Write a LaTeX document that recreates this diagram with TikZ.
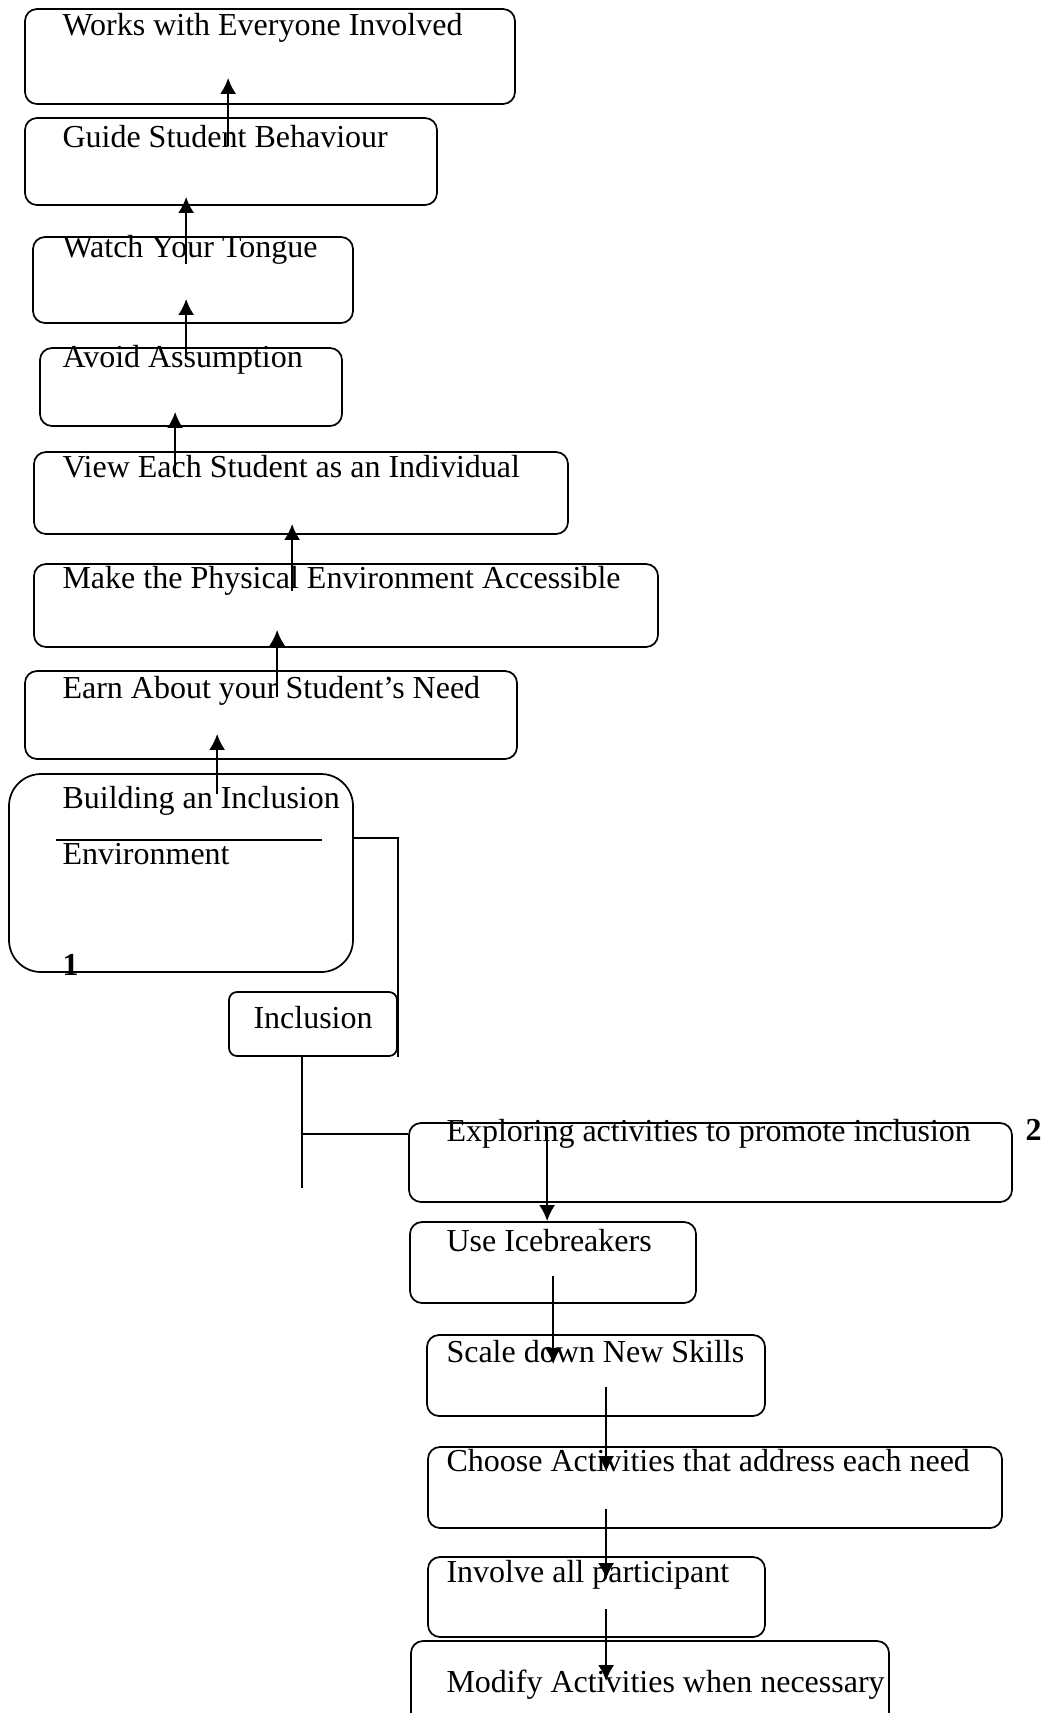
\documentclass[tikz,border=0pt]{standalone}
\usepackage{fontspec}
\setmainfont{Liberation Serif}
\usetikzlibrary{arrows.meta, positioning, calc, fit}

\tikzset{
  box/.style={draw, rounded corners=4.5pt, inner sep=0pt, line width=0.65pt},
  txt/.style={anchor=base west, inner sep=0pt},
  arr/.style={-{Latex[length=6pt,width=6pt]}, line width=0.85pt},
  link/.style={line width=0.65pt}
}

\begin{document}
\begin{tikzpicture}[x=0.375pt, y=-0.375pt, font=\fontsize{12}{14}\selectfont]
\useasboundingbox (0,0) rectangle (1042,1713);
\node[box, fit={(25,9) (515,104)}] (Works) {};
\node[txt] (WorksT) at (62,35) {Works with Everyone Involved};
\node[box, fit={(25,118) (437,205)}] (Guide) {};
\node[txt] (GuideT) at (62,147) {Guide Student Behaviour};
\node[box, fit={(33,237) (353,323)}] (Watch) {};
\node[txt] (WatchT) at (62,257) {Watch Your Tongue};
\node[box, fit={(40,348) (342,426)}] (Avoid) {};
\node[txt] (AvoidT) at (62,367) {Avoid Assumption};
\node[box, fit={(34,452) (568,534)}] (View) {};
\node[txt] (ViewT) at (62,477) {View Each Student as an Individual};
\node[box, fit={(34,564) (658,647)}] (Make) {};
\node[txt] (MakeT) at (62,588) {Make the Physical Environment Accessible};
\node[box, fit={(25,671) (517,759)}] (Earn) {};
\node[txt] (EarnT) at (62,698) {Earn About your Student’s Need};
\node[box, rounded corners=12pt, fit={(9,774) (353,972)}] (Build) {};
\node[txt] (BuildT) at (62,808) {Building an Inclusion};
\node[txt] (BuildT2) at (62,864) {Environment};
\node[txt] (One) at (62,975) {\textbf{1}};
\node[box, rounded corners=3pt, fit={(229,992) (397,1056)}] (Incl) {};
\node[txt] (InclT) at (253,1028) {Inclusion};
\node[box, fit={(409,1123) (1012,1202)}] (Explore) {};
\node[txt] (ExploreT) at (446,1141) {Exploring activities to promote inclusion};
\node[txt] (Two) at (1025,1140) {\textbf{2}};
\node[box, fit={(410,1222) (696,1303)}] (Ice) {};
\node[txt] (IceT) at (446,1251) {Use Icebreakers};
\node[box, fit={(427,1335) (765,1416)}] (Scale) {};
\node[txt] (ScaleT) at (446,1362) {Scale down New Skills};
\node[box, fit={(428,1447) (1002,1528)}] (Choose) {};
\node[txt] (ChooseT) at (446,1471) {Choose Activities that address each need};
\node[box, fit={(428,1557) (765,1637)}] (Involve) {};
\node[txt] (InvolveT) at (446,1582) {Involve all participant};
\node[box, fit={(411,1641) (889,1740)}] (Modify) {};
\node[txt] (ModifyT) at (446,1692) {Modify Activities when necessary};
\draw[arr] ([shift={(204,29)}]Guide.north west) -- ([shift={(204,-27)}]Works.south west);
\draw[arr] ([shift={(154,28)}]Watch.north west) -- ([shift={(162,-9)}]Guide.south west);
\draw[arr] ([shift={(147,12)}]Avoid.north west) -- ([shift={(154,-25)}]Watch.south west);
\draw[arr] ([shift={(142,26)}]View.north west) -- ([shift={(136,-15)}]Avoid.south west);
\draw[arr] ([shift={(259,28)}]Make.north west) -- ([shift={(259,-11)}]View.south west);
\draw[arr] ([shift={(253,27)}]Earn.north west) -- ([shift={(244,-18)}]Make.south west);
\draw[arr] ([shift={(209,21)}]Build.north west) -- ([shift={(193,-26)}]Earn.south west);
\draw[link] ([shift={(48,67)}]Build.north west) -- ++(266,0);
\draw[link] ([shift={(0,65)}]Build.north east) -| (Incl.south east);
\coordinate (Fork) at ($(Incl.252)+(0,77)$);
\draw[link] (Incl.252) -- (Fork) -- ++(0,54);
\draw[link] (Fork) -- (Explore.west |- Fork);
\draw[arr] ([shift={(139,7)}]Explore.north west) -- ([shift={(138,0)}]Ice.north west);
\draw[arr] ([shift={(144,55)}]Ice.north west) -- ([shift={(127,30)}]Scale.north west);
\draw[arr] ([shift={(180,53)}]Scale.north west) -- ([shift={(179,26)}]Choose.north west);
\draw[arr] ([shift={(179,63)}]Choose.north west) -- ([shift={(179,23)}]Involve.north west);
\draw[arr] ([shift={(179,53)}]Involve.north west) -- ([shift={(196,41)}]Modify.north west);
\end{tikzpicture}
\end{document}
